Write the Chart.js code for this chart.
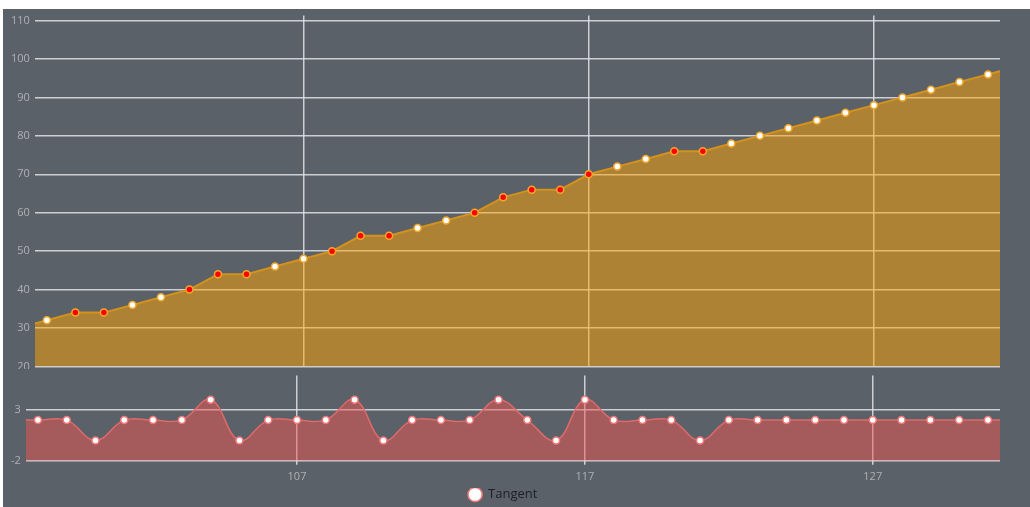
<!DOCTYPE html>
<html lang="en">
  <head>
    <meta charset="UTF-8" />
    <title>Price and tangent</title>
    <style>
      body { margin: 0; background: #fff; }
      #panel {
        position: absolute; left: 3px; top: 9px;
        width: 1027px; height: 498px;
        background: #5a6169; overflow: hidden;
      }
      #topWrap { position: absolute; left: 0; top: 0; width: 1027px; height: 360px; overflow: hidden; }
      #topBox { position: absolute; left: 0; top: -5px; width: 1027px; height: 374px; }
      #bottomWrap { position: absolute; left: 0; top: 355px; width: 1027px; height: 147px; }
    </style>
  </head>
  <body>
    <div id="panel">
      <div id="topWrap"><div id="topBox"><canvas id="priceChart"></canvas></div></div>
      <div id="bottomWrap"><canvas id="tangentChart"></canvas></div>
    </div>

    <script src="https://cdn.jsdelivr.net/npm/chart.js"></script>
    <script>
      const xs = [97, 98, 99, 100, 101, 102, 103, 104, 105, 106, 107, 108, 109, 110, 111, 112, 113, 114,
        115, 116, 117, 118, 119, 120, 121, 122, 123, 124, 125, 126, 127, 128, 129, 130, 131, 132];
      const price = [30, 32, 34, 34, 36, 38, 40, 44, 44, 46, 48, 50, 54, 54, 56, 58, 60, 64,
        66, 66, 70, 72, 74, 76, 76, 78, 80, 82, 84, 86, 88, 90, 92, 94, 96, 98];
      const tangent = [2, 2, 2, 0, 2, 2, 2, 4, 0, 2, 2, 2, 4, 0, 2, 2, 2, 4,
        2, 0, 4, 2, 2, 2, 0, 2, 2, 2, 2, 2, 2, 2, 2, 2, 2, 2];
      const xTicks = [107, 117, 127];
      const priceTicks = [20, 30, 40, 50, 60, 70, 80, 90, 100, 110];
      const tangentTicks = [-2, 3];

      const X_MIN = 97.58, X_MAX = 131.42;
      const gridColor = "rgba(225, 228, 232, 0.85)";
      const tickColor = "#adb2b8";
      const font = { family: "'Open Sans', 'Noto Sans', sans-serif", size: 11 };

      const pts = (ys) => xs.map((x, i) => ({ x: x, y: ys[i] }));
      const onlyTicks = (list) => (scale) => {
        scale.ticks = list.map((v) => ({ value: v }));
      };

      // red dot where the slope going in or out is not the usual +2
      const priceDot = (ctx) => {
        const i = ctx.dataIndex;
        const next = tangent[i + 1] ?? 2;
        return tangent[i] !== 2 || next !== 2 ? "#ff0000" : "#ffffff";
      };

      Chart.defaults.animation = false;

      new Chart(document.getElementById("priceChart"), {
        type: "line",
        data: {
          datasets: [
            {
              label: "Price",
              data: pts(price),
              borderColor: "#d4921c",
              borderWidth: 2,
              backgroundColor: "rgba(255, 163, 0, 0.5)",
              fill: "start",
              tension: 0,
              pointRadius: 3.5,
              pointBorderWidth: 1.5,
              pointBorderColor: "#f2a82c",
              pointBackgroundColor: priceDot,
            },
          ],
        },
        options: {
          responsive: true,
          maintainAspectRatio: false,
          layout: { padding: { left: 3, right: 30, top: 0, bottom: 0 } },
          plugins: { legend: { display: false }, tooltip: { enabled: false } },
          scales: {
            x: {
              type: "linear",
              min: X_MIN,
              max: X_MAX,
              afterBuildTicks: onlyTicks(xTicks),
              ticks: { display: false },
              grid: { color: gridColor, lineWidth: 1.5, drawTicks: false },
              border: { display: false },
            },
            y: {
              min: 20,
              max: 111.3,
              afterBuildTicks: onlyTicks(priceTicks),
              ticks: { color: tickColor, font: font, padding: 5 },
              grid: { color: gridColor, lineWidth: 1.5, drawTicks: false },
              border: { display: false },
            },
          },
        },
      });

      new Chart(document.getElementById("tangentChart"), {
        type: "line",
        data: {
          datasets: [
            {
              label: "Tangent",
              data: pts(tangent),
              borderColor: "#e06a6a",
              borderWidth: 1.5,
              backgroundColor: "rgba(240, 83, 80, 0.5)",
              fill: "start",
              tension: 0.4,
              pointRadius: 3.5,
              pointBorderWidth: 1.5,
              pointBorderColor: "#f07878",
              pointBackgroundColor: "#ffffff",
            },
          ],
        },
        options: {
          responsive: true,
          maintainAspectRatio: false,
          layout: { padding: { left: 3, right: 30, top: 0, bottom: 0 } },
          plugins: {
            tooltip: { enabled: false },
            legend: {
              position: "bottom",
              labels: {
                usePointStyle: true,
                boxHeight: 10,
                padding: 0,
                color: "#1e1e28",
                font: { family: "'Open Sans', 'Noto Sans', sans-serif", size: 13 },
              },
            },
          },
          scales: {
            x: {
              type: "linear",
              min: X_MIN,
              max: X_MAX,
              afterBuildTicks: onlyTicks(xTicks),
              ticks: { color: tickColor, font: font, padding: 5 },
              grid: { color: gridColor, lineWidth: 1.5, tickLength: 4 },
              border: { display: false },
            },
            y: {
              min: -2,
              max: 6.37,
              afterBuildTicks: onlyTicks(tangentTicks),
              ticks: { color: tickColor, font: font, padding: 5 },
              grid: { color: gridColor, lineWidth: 1.5, drawTicks: false },
              border: { display: false },
            },
          },
        },
      });
    </script>
  </body>
</html>
